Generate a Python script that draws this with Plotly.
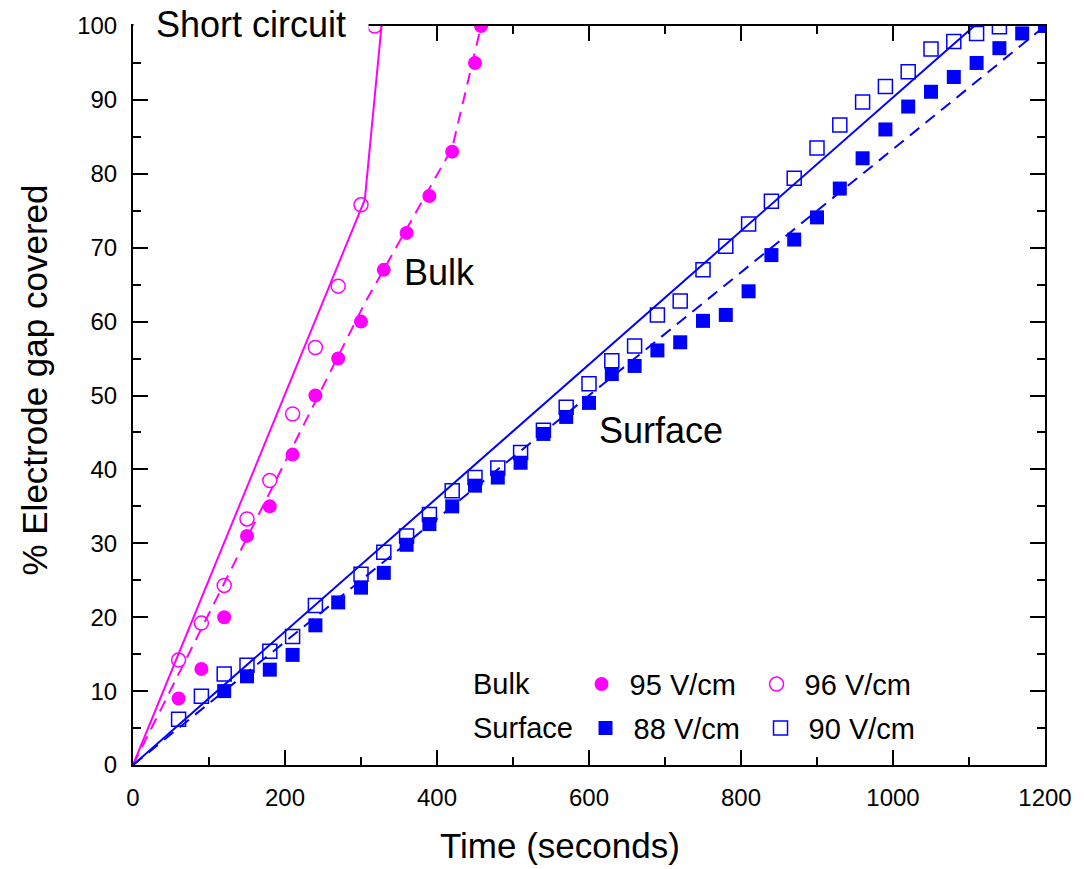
import plotly.graph_objects as go

# ---------------- data ----------------
bulk95_t = [60, 90, 120, 150, 180, 210, 240, 270, 300, 330, 360, 390, 420, 450, 458]
bulk95_v = [9, 13, 20, 31, 35, 42, 50, 55, 60, 67, 72, 77, 83, 95, 100]

bulk96_t = [60, 90, 120, 150, 180, 210, 240, 270, 300, 318]
bulk96_v = [14.2, 19.2, 24.3, 33.3, 38.5, 47.5, 56.5, 64.8, 75.8, 100]

surf88_t = [120, 150, 180, 210, 240, 270, 300, 330, 360, 390, 420, 450, 480, 510, 540,
            570, 600, 630, 660, 690, 720, 750, 780, 810, 840, 870, 900, 930, 960, 990,
            1020, 1050, 1080, 1110, 1140, 1170, 1200]
surf88_v = [10, 12, 12.9, 14.9, 18.9, 22, 24, 26, 29.8, 32.6, 35, 37.8, 38.9, 40.9, 44.8,
            47.1, 49, 52.9, 54, 56.1, 57.2, 60.1, 60.9, 64.1, 69, 71.1, 74.1, 78, 82.1, 86,
            89.1, 91.1, 93.1, 95, 97, 99, 100]

surf90_t = [60, 90, 120, 150, 180, 210, 240, 300, 330, 360, 390, 420, 450, 480, 510, 540,
            570, 600, 630, 660, 690, 720, 750, 780, 810, 840, 870, 900, 930, 960, 990,
            1020, 1050, 1080, 1110, 1140]
surf90_v = [6.2, 9.3, 12.3, 13.5, 15.4, 17.4, 21.6, 25.8, 28.8, 31.0, 33.9, 37.1, 38.9, 40.2,
            42.3, 45.3, 48.4, 51.6, 54.7, 56.7, 60.9, 62.8, 67.0, 70.2, 73.2, 76.3, 79.4, 83.5,
            86.6, 89.7, 91.8, 93.8, 96.9, 97.9, 99.0, 99.9]

# guide / fit lines
bulk95_fit_t = [0, 305, 420, 458]
bulk95_fit_v = [0, 62.5, 83.5, 100]
bulk96_fit_t = [0, 305, 327]
bulk96_fit_v = [0, 76.5, 100]
surf88_fit_t = [0, 1200]
surf88_fit_v = [0, 100]
surf90_fit_t = [0, 1118]
surf90_fit_v = [0, 101]

x_ticks = [0, 200, 400, 600, 800, 1000, 1200]
y_ticks = [0, 10, 20, 30, 40, 50, 60, 70, 80, 90, 100]

MAG = "#FF00FF"
BLU = "#0000FF"
FONT = "Liberation Sans, Arial, sans-serif"

fig = go.Figure()

# lines
fig.add_trace(go.Scatter(x=bulk96_fit_t, y=bulk96_fit_v, mode="lines",
                         line=dict(color=MAG, width=2), showlegend=False, hoverinfo="skip"))
fig.add_trace(go.Scatter(x=bulk95_fit_t, y=bulk95_fit_v, mode="lines",
                         line=dict(color=MAG, width=2, dash="12px,8px"), showlegend=False, hoverinfo="skip"))
fig.add_trace(go.Scatter(x=surf90_fit_t, y=surf90_fit_v, mode="lines",
                         line=dict(color=BLU, width=2), showlegend=False, hoverinfo="skip"))
fig.add_trace(go.Scatter(x=surf88_fit_t, y=surf88_fit_v, mode="lines",
                         line=dict(color=BLU, width=2, dash="12px,8px"), showlegend=False, hoverinfo="skip"))

# markers
fig.add_trace(go.Scatter(x=bulk95_t, y=bulk95_v, mode="markers", name="&nbsp;95 V/cm",
                         marker=dict(symbol="circle", size=14, color=MAG), legend="legend"))
fig.add_trace(go.Scatter(x=bulk96_t, y=bulk96_v, mode="markers", name="&nbsp;96 V/cm",
                         marker=dict(symbol="circle-open", size=14, color=MAG, line=dict(width=1.5)),
                         legend="legend"))
fig.add_trace(go.Scatter(x=surf88_t, y=surf88_v, mode="markers", name="&nbsp;88 V/cm",
                         marker=dict(symbol="square", size=14, color=BLU), legend="legend2"))
fig.add_trace(go.Scatter(x=surf90_t, y=surf90_v, mode="markers", name="&nbsp;90 V/cm",
                         marker=dict(symbol="square-open", size=14, color=BLU, line=dict(width=1.5)),
                         legend="legend2"))

W, H = 1084, 869
L, T = 133, 24
R = W - 1050
B = H - 765
pw = W - L - R
ph = H - T - B


def px_x(px):
    return (px - L) / pw


def px_y(py):
    return (H - B - py) / ph


axis_common = dict(showline=True, linecolor="black", linewidth=2, mirror="ticks",
                   ticks="inside", ticklen=15, tickwidth=2, tickcolor="black",
                   showgrid=False, zeroline=False, ticklabeloverflow="allow",
                   tickfont=dict(family=FONT, size=24, color="black"))

fig.update_xaxes(range=[0, 1200], tickvals=x_ticks, ticktext=[str(v) for v in x_ticks],
                 ticklabelstandoff=10,
                 minor=dict(dtick=100, ticklen=8, tickwidth=2, tickcolor="black", ticks="inside"),
                 **axis_common)
fig.update_yaxes(range=[0, 100], tickvals=y_ticks, ticktext=[str(v) for v in y_ticks],
                 ticklabelstandoff=9,
                 minor=dict(dtick=5, ticklen=8, tickwidth=2, tickcolor="black", ticks="inside"),
                 **axis_common)

legend_common = dict(orientation="h", bgcolor="rgba(0,0,0,0)", borderwidth=0,
                      font=dict(family=FONT, size=29, color="black"),
                      xanchor="left", yanchor="middle", entrywidth=130, itemsizing="trace",
                      tracegroupgap=0)

fig.update_layout(
    width=W, height=H,
    margin=dict(l=L, r=R, t=T, b=B),
    paper_bgcolor="white", plot_bgcolor="white",
    font=dict(family=FONT, color="black"),
    legend=dict(x=px_x(584), y=px_y(684), **legend_common),
    legend2=dict(x=px_x(588), y=px_y(728), **legend_common),
    annotations=[
        dict(text="Short circuit", xref="paper", yref="paper", x=px_x(252), y=px_y(22),
             xanchor="center", yanchor="middle", showarrow=False, width=222, height=36,
             bgcolor="white", borderpad=6, font=dict(family=FONT, size=36, color="black")),
        dict(text="Bulk", x=403, y=66.7, xref="x", yref="y", showarrow=False,
             font=dict(family=FONT, size=36, color="black")),
        dict(text="Surface", x=695, y=45.3, xref="x", yref="y", showarrow=False,
             font=dict(family=FONT, size=36, color="black")),
        dict(text="Bulk", xref="paper", yref="paper", x=px_x(473), y=px_y(684),
             xanchor="left", yanchor="middle", showarrow=False,
             font=dict(family=FONT, size=29, color="black")),
        dict(text="Surface", xref="paper", yref="paper", x=px_x(473), y=px_y(728),
             xanchor="left", yanchor="middle", showarrow=False,
             font=dict(family=FONT, size=29, color="black")),
        dict(text="Time (seconds)", xref="paper", yref="paper", x=px_x(562), y=px_y(846),
             xanchor="center", yanchor="middle", showarrow=False,
             font=dict(family=FONT, size=35, color="black")),
        dict(text="% Electrode gap covered", xref="paper", yref="paper", x=px_x(33), y=px_y(379),
             xanchor="center", yanchor="middle", showarrow=False, textangle=-90,
             font=dict(family=FONT, size=35, color="black")),
    ],
)

fig.write_html("out.html", config={"displayModeBar": False},
               post_script="document.body.style.margin='0';document.body.style.overflow='hidden';")
